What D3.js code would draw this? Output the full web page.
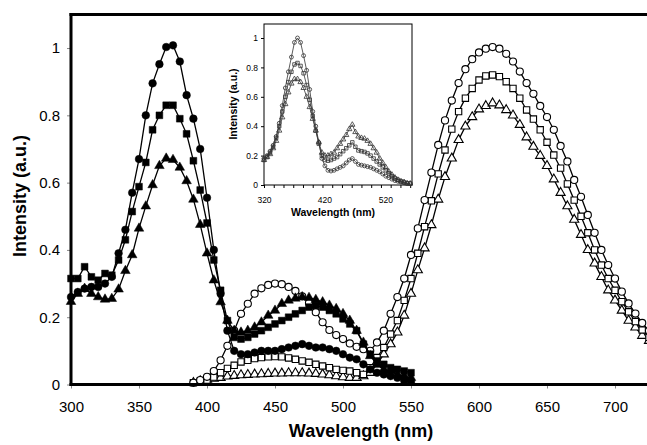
<!DOCTYPE html>
<html>
<head>
<meta charset="utf-8">
<script src="https://cdn.jsdelivr.net/npm/d3@7"></script>
<style>
body { margin: 0; background: #fff; }
svg text { font-family: Arial, "Liberation Sans", sans-serif; fill: #000; }
</style>
</head>
<body>
<div id="chart"></div>
<script>
// Excitation spectra (filled symbols), 300-550 nm
const wlFilled = [300,305,310,315,320,325,330,335,340,345,350,355,360,365,370,375,380,385,390,395,
    400,405,410,415,420,425,430,435,440,445,450,455,460,465,470,475,480,485,490,495,
    500,505,510,515,520,525,530,535,540,545,550];
const filledCircle = [0.26,0.275,0.285,0.29,0.29,0.30,0.32,0.39,0.46,0.57,0.67,0.80,0.895,0.952,1.003,1.008,0.96,0.86,0.79,0.70,
    0.555,0.40,0.27,0.16,0.10,0.09,0.09,0.095,0.10,0.10,0.10,0.105,0.11,0.115,0.12,0.115,0.11,0.11,0.105,0.10,
    0.09,0.08,0.075,0.06,0.045,0.035,0.03,0.025,0.02,0.012,0.008];
const filledSquare = [0.315,0.315,0.35,0.32,0.31,0.33,0.325,0.37,0.43,0.514,0.588,0.66,0.757,0.80,0.83,0.83,0.79,0.745,0.665,0.578,
    0.48,0.37,0.28,0.19,0.14,0.135,0.14,0.15,0.16,0.17,0.18,0.19,0.20,0.21,0.22,0.23,0.235,0.23,0.22,0.21,
    0.195,0.18,0.16,0.12,0.09,0.07,0.06,0.05,0.045,0.04,0.035];
const filledTriangle = [0.246,0.27,0.285,0.27,0.26,0.253,0.255,0.283,0.338,0.385,0.464,0.53,0.593,0.65,0.672,0.668,0.645,0.605,0.55,0.475,
    0.39,0.31,0.245,0.19,0.16,0.155,0.16,0.17,0.185,0.205,0.22,0.24,0.25,0.256,0.26,0.258,0.252,0.245,0.235,0.225,
    0.21,0.19,0.16,0.125,0.085,0.06,0.045,0.04,0.03,0.025,0.02];

// Emission spectra (open symbols), 390-725 nm
const wlOpen = [390,395,400,405,410,415,420,425,430,435,440,445,450,455,460,465,470,475,480,485,
    490,495,500,505,510,515,520,525,530,535,540,545,550,555,560,565,570,575,580,585,
    590,595,600,605,610,615,620,625,630,635,640,645,650,655,660,665,670,675,680,685,
    690,695,700,705,710,715,720,725];
const openCircle = [0.005,0.013,0.023,0.04,0.072,0.115,0.16,0.21,0.24,0.27,0.286,0.296,0.30,0.298,0.29,0.278,0.262,0.242,0.215,0.185,
    0.162,0.147,0.135,0.122,0.112,0.105,0.10,0.125,0.16,0.21,0.26,0.315,0.385,0.464,0.548,0.63,0.712,0.785,0.844,0.896,
    0.937,0.967,0.987,0.998,1.003,0.998,0.983,0.96,0.93,0.896,0.864,0.828,0.795,0.757,0.709,0.663,0.608,0.558,0.504,0.451,
    0.40,0.355,0.315,0.276,0.241,0.211,0.183,0.16];
const openSquare = [0.005,0.01,0.013,0.022,0.035,0.048,0.057,0.067,0.072,0.077,0.08,0.082,0.083,0.082,0.079,0.075,0.07,0.066,0.06,0.055,
    0.05,0.045,0.042,0.04,0.035,0.03,0.05,0.08,0.11,0.15,0.19,0.25,0.315,0.39,0.469,0.546,0.626,0.697,0.759,0.811,
    0.851,0.88,0.905,0.917,0.92,0.915,0.90,0.88,0.851,0.816,0.789,0.757,0.72,0.682,0.643,0.596,0.548,0.50,0.451,0.40,
    0.355,0.315,0.28,0.246,0.216,0.187,0.162,0.14];
const openTriangle = [0.005,0.01,0.015,0.018,0.02,0.024,0.026,0.028,0.029,0.03,0.031,0.032,0.033,0.033,0.034,0.034,0.034,0.033,0.032,0.03,
    0.028,0.025,0.022,0.02,0.02,0.025,0.035,0.06,0.09,0.12,0.155,0.205,0.27,0.34,0.405,0.474,0.55,0.617,0.672,0.727,
    0.767,0.795,0.818,0.828,0.836,0.83,0.816,0.80,0.772,0.735,0.707,0.68,0.65,0.61,0.57,0.53,0.49,0.445,0.40,0.36,
    0.32,0.28,0.25,0.22,0.19,0.17,0.145,0.13];

// Inset, 320-560 nm
const wlInset = [320,325,330,335,340,345,350,355,360,365,370,375,380,385,390,395,400,405,410,415,
    420,425,430,435,440,445,450,455,460,465,470,475,480,485,490,495,500,505,510,515,
    520,525,530,535,540,545,550,555,560];
const insetCircle = [0.18,0.2,0.23,0.27,0.33,0.42,0.54,0.66,0.77,0.87,0.97,1.0,0.97,0.88,0.78,0.65,0.5,0.4,0.29,0.18,
    0.13,0.1,0.095,0.1,0.11,0.12,0.13,0.15,0.17,0.18,0.16,0.14,0.135,0.13,0.125,0.12,0.11,0.1,0.09,0.075,
    0.06,0.05,0.04,0.03,0.025,0.02,0.015,0.01,0.01];
const insetSquare = [0.17,0.19,0.22,0.26,0.32,0.4,0.5,0.6,0.7,0.77,0.82,0.83,0.81,0.76,0.68,0.58,0.47,0.37,0.28,0.2,
    0.17,0.165,0.17,0.18,0.19,0.21,0.23,0.25,0.27,0.29,0.26,0.235,0.23,0.225,0.215,0.2,0.18,0.16,0.14,0.12,
    0.1,0.08,0.06,0.045,0.035,0.025,0.018,0.012,0.01];
const insetTriangle = [0.17,0.19,0.21,0.25,0.3,0.37,0.46,0.55,0.63,0.69,0.72,0.72,0.7,0.66,0.6,0.53,0.45,0.37,0.29,0.22,
    0.2,0.2,0.21,0.22,0.25,0.28,0.31,0.34,0.38,0.41,0.36,0.33,0.32,0.315,0.3,0.28,0.25,0.22,0.18,0.15,
    0.12,0.09,0.07,0.05,0.035,0.025,0.02,0.012,0.01];

// Tick values
const mainXTicks = [300,350,400,450,500,550,600,650,700];
const mainYTicks = [0,0.2,0.4,0.6,0.8,1];
const insetXTicks = [320,336,352,368,384,400,416,432,448,464,480,496,512,528,544,560];
const insetXLabels = [320,420,520];
const insetYTicks = [0,0.2,0.4,0.6,0.8,1];

const svg = d3.select("#chart").append("svg")
    .attr("width", 647)
    .attr("height", 445);

// draw one series: line then markers
function drawSeries(g, x, y, wl, values, shape, opts) {
    var pts = wl.map((w, i) => [w, values[i]]);
    g.append("path")
        .datum(pts)
        .attr("fill", "none")
        .attr("stroke", opts.stroke)
        .attr("stroke-width", opts.lineWidth)
        .attr("d", d3.line().x(d => x(d[0])).y(d => y(d[1])));

    var sym = d3.symbol().type(shape).size(opts.size);
    g.selectAll(null)
        .data(pts)
        .enter().append("path")
        .attr("transform", d => "translate(" + x(d[0]) + "," + y(d[1]) + ")")
        .attr("d", sym)
        .attr("fill", opts.fill)
        .attr("stroke", opts.stroke)
        .attr("stroke-width", opts.markerStroke);
}

function drawMain() {
    const x = d3.scaleLinear().domain([300, 725]).range([71, 649]);
    const y = d3.scaleLinear().domain([0, 1.1]).range([384.5, 14.4]);

    const g = svg.append("g");

    // ticks
    g.append("g")
        .attr("transform", "translate(0,384.5)")
        .call(d3.axisBottom(x).tickValues(mainXTicks).tickSize(4).tickPadding(13).tickFormat(d3.format("d")))
        .call(a => a.select(".domain").remove())
        .call(a => a.selectAll("line").attr("stroke", "#888"))
        .call(a => a.selectAll("text").style("font-size", "15px"));

    g.append("g")
        .attr("transform", "translate(71,0)")
        .call(d3.axisLeft(y).tickValues(mainYTicks).tickSize(4).tickPadding(7).tickFormat(d => d === 0 || d === 1 ? d : d.toFixed(1)))
        .call(a => a.select(".domain").remove())
        .call(a => a.selectAll("line").attr("stroke", "#888"))
        .call(a => a.selectAll("text").style("font-size", "15px"));

    const filledOpts = { fill: "#000", stroke: "#000", lineWidth: 1.3, markerStroke: 0.5, size: 46 };
    const openOpts = { fill: "#fff", stroke: "#000", lineWidth: 1.3, markerStroke: 1.1, size: 40 };

    drawSeries(g, x, y, wlOpen, openTriangle, d3.symbolTriangle, Object.assign({}, openOpts, { size: 36 }));
    drawSeries(g, x, y, wlOpen, openSquare, d3.symbolSquare, openOpts);
    drawSeries(g, x, y, wlOpen, openCircle, d3.symbolCircle, openOpts);
    drawSeries(g, x, y, wlFilled, filledTriangle, d3.symbolTriangle, Object.assign({}, filledOpts, { size: 40 }));
    drawSeries(g, x, y, wlFilled, filledSquare, d3.symbolSquare, filledOpts);
    drawSeries(g, x, y, wlFilled, filledCircle, d3.symbolCircle, filledOpts);

    // frame: thick left, bottom and top lines
    g.append("line").attr("x1", 71).attr("x2", 71).attr("y1", 13).attr("y2", 386)
        .attr("stroke", "#000").attr("stroke-width", 3);
    g.append("line").attr("x1", 69.5).attr("x2", 647).attr("y1", 384.5).attr("y2", 384.5)
        .attr("stroke", "#000").attr("stroke-width", 3);
    g.append("line").attr("x1", 69.5).attr("x2", 647).attr("y1", 14.5).attr("y2", 14.5)
        .attr("stroke", "#000").attr("stroke-width", 3);

    // axis titles
    svg.append("text")
        .attr("x", 361).attr("y", 437)
        .attr("text-anchor", "middle")
        .style("font-size", "18px").style("font-weight", "bold")
        .text("Wavelength (nm)");
    svg.append("text")
        .attr("transform", "translate(26,196) rotate(-90)")
        .attr("text-anchor", "middle")
        .style("font-size", "18px").style("font-weight", "bold")
        .text("Intensity (a.u.)");
}

function drawInset() {
    const x = d3.scaleLinear().domain([320, 563]).range([264, 412]);
    const y = d3.scaleLinear().domain([0, 1.1]).range([185, 23.3]);

    const g = svg.append("g");
    g.append("rect")
        .attr("x", 264).attr("y", 24).attr("width", 148).attr("height", 161)
        .attr("fill", "#fff").attr("stroke", "#000").attr("stroke-width", 1);

    g.append("g")
        .attr("transform", "translate(0,185)")
        .call(d3.axisBottom(x).tickValues(insetXTicks).tickSize(3).tickPadding(9)
            .tickFormat(d => insetXLabels.includes(d) ? d : ""))
        .call(a => a.select(".domain").remove())
        .call(a => a.selectAll("line").attr("stroke", "#000"))
        .call(a => a.selectAll("text").style("font-size", "8.5px"));
    // labelled inset ticks at 420 and 520 (not on the minor grid)
    g.selectAll(".lab").data(insetXLabels.slice(1)).enter().append("text")
        .attr("x", d => x(d)).attr("y", 203)
        .attr("text-anchor", "middle").style("font-size", "8.5px")
        .text(d => d);

    g.append("g")
        .attr("transform", "translate(264,0)")
        .call(d3.axisLeft(y).tickValues(insetYTicks).tickSize(3).tickPadding(3)
            .tickFormat(d => d === 0 || d === 1 ? d : d.toFixed(1)))
        .call(a => a.select(".domain").remove())
        .call(a => a.selectAll("line").attr("stroke", "#000"))
        .call(a => a.selectAll("text").style("font-size", "8.5px"));

    const opts = { fill: "none", stroke: "#333", lineWidth: 0.8, markerStroke: 0.8, size: 12 };
    drawSeries(g, x, y, wlInset, insetTriangle, d3.symbolTriangle, opts);
    drawSeries(g, x, y, wlInset, insetSquare, d3.symbolSquare, opts);
    drawSeries(g, x, y, wlInset, insetCircle, d3.symbolCircle, opts);

    svg.append("text")
        .attr("x", 333).attr("y", 216)
        .attr("text-anchor", "middle")
        .style("font-size", "10.5px").style("font-weight", "bold")
        .text("Wavelength (nm)");
    svg.append("text")
        .attr("transform", "translate(237,104) rotate(-90)")
        .attr("text-anchor", "middle")
        .style("font-size", "10.5px").style("font-weight", "bold")
        .text("Intensity (a.u.)");
}

drawMain();
drawInset();
</script>
</body>
</html>
